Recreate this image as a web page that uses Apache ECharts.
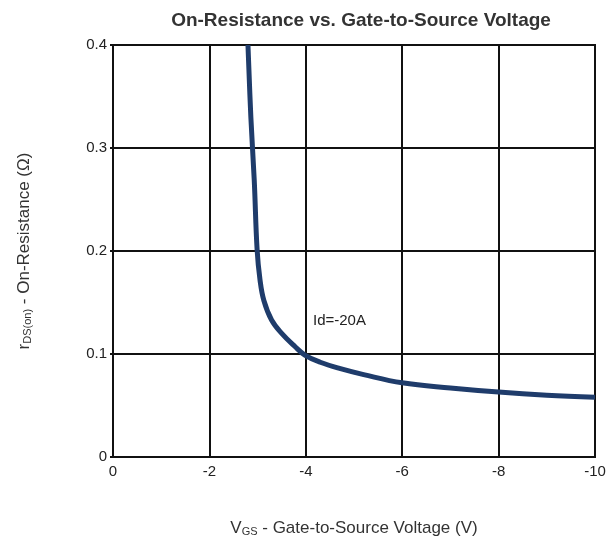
<!DOCTYPE html>
<html>
<head>
<meta charset="utf-8">
<script src="https://cdn.jsdelivr.net/npm/echarts@6/dist/echarts.min.js"></script>
<style>
  html, body { margin: 0; padding: 0; background: #fff; }
  #chart { width: 613px; height: 547px; }
</style>
</head>
<body>
<div id="chart"></div>
<script>
// gate-source voltage (V) and on-resistance (ohm)
const vgs = [-2.80, -2.86, -2.93, -2.99, -3.05, -3.13, -3.29, -3.50, -3.78, -3.98, -4.3, -4.7, -5.2, -6.0, -7.0, -8.0, -9.0, -10.0]
const rdson = [0.40, 0.33, 0.269, 0.201, 0.172, 0.152, 0.133, 0.120, 0.107, 0.099, 0.092, 0.086, 0.080, 0.072, 0.067, 0.063, 0.060, 0.058]
const xTicks = [0, -2, -4, -6, -8, -10]
const yTicks = [0, 0.1, 0.2, 0.3, 0.4]
const noteText = 'Id=-20A'

const chart = echarts.init(document.getElementById('chart'))
const font = 'Arial, "Liberation Sans", sans-serif'

const option = {
  backgroundColor: '#fff',
  animation: false,
  title: {
    text: 'On-Resistance vs. Gate-to-Source Voltage',
    left: 356,
    textAlign: 'center',
    top: 6,
    textStyle: { fontFamily: font, fontSize: 19, fontWeight: 'bold', color: '#333' }
  },
  grid: {
    left: 113, right: 18, top: 45, bottom: 90,
    show: true, borderColor: '#111', borderWidth: 2
  },
  xAxis: {
    type: 'value',
    inverse: true,
    min: -10,
    max: 0,
    interval: 2,
    axisLine: { show: true, onZero: false, lineStyle: { color: '#111', width: 2 } },
    axisTick: { show: false },
    splitLine: { show: true, lineStyle: { color: '#111', width: 2 } },
    axisLabel: {
      fontFamily: font, fontSize: 15, color: '#222', margin: 7,
      formatter: v => xTicks.includes(v) ? String(v) : ''
    },
    name: '{n|V}{sub|GS}{n| - Gate-to-Source Voltage (V)}',
    nameLocation: 'middle',
    nameGap: 62,
    nameTextStyle: {
      rich: {
        n: { fontFamily: font, fontSize: 17, color: '#333' },
        sub: { fontFamily: font, fontSize: 11, color: '#333', verticalAlign: 'bottom', padding: [7, 0, 0, 0] }
      }
    }
  },
  yAxis: {
    type: 'value',
    min: 0,
    max: 0.4,
    interval: 0.1,
    axisLine: { show: true, lineStyle: { color: '#111', width: 2 } },
    axisTick: { show: true, length: 3, lineStyle: { color: '#111', width: 2 } },
    splitLine: { show: true, lineStyle: { color: '#111', width: 2 } },
    axisLabel: {
      fontFamily: font, fontSize: 15, color: '#222', margin: 6,
      formatter: v => {
        const t = yTicks.find(y => Math.abs(y - v) < 1e-6)
        return t === undefined ? '' : String(t)
      }
    },
    name: '{n|r}{sub|DS(on)}{n| - On-Resistance (Ω)}',
    nameLocation: 'middle',
    nameGap: 80,
    nameRotate: 90,
    nameTextStyle: {
      rich: {
        n: { fontFamily: font, fontSize: 17, color: '#333' },
        sub: { fontFamily: font, fontSize: 11, color: '#333', verticalAlign: 'bottom', padding: [7, 0, 0, 0] }
      }
    }
  },
  graphic: [{
    type: 'text',
    left: 313,
    top: 313,
    style: { text: noteText, fontFamily: font, fontSize: 15, fill: '#222' }
  }],
  series: [{
    type: 'line',
    data: vgs.map((v, i) => [v, rdson[i]]),
    smooth: 0.4,
    showSymbol: false,
    clip: true,
    lineStyle: { color: '#1f3c6b', width: 5 }
  }]
}
chart.setOption(option)
</script>
</body>
</html>
